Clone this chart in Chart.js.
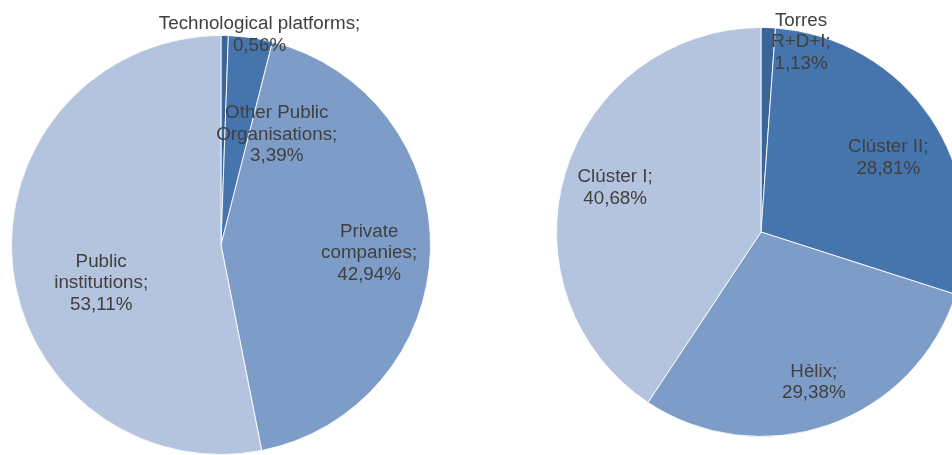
<!DOCTYPE html>
<html>
<head>
<meta charset="utf-8">
<script src="https://cdn.jsdelivr.net/npm/chart.js@4.4.1/dist/chart.umd.min.js"></script>
<style>
  html, body { margin: 0; padding: 0; background: #fff; overflow: hidden; width: 952px; height: 455px; }
  .box { position: absolute; top: 0; height: 455px; }
  #leftBox  { left: 0;     width: 540px; }
  #rightBox { left: 540px; width: 450px; }
</style>
</head>
<body>
<div class="box" id="leftBox"><canvas id="entities"></canvas></div>
<div class="box" id="rightBox"><canvas id="buildings"></canvas></div>
<script>
// ---- data -------------------------------------------------------------------

const entityNames  = ['Technological platforms', 'Other Public\nOrganisations', 'Private\ncompanies', 'Public\ninstitutions'];
const entityShares = [0.56, 3.39, 42.94, 53.11];

const buildingNames  = ['Torres\nR+D+I', 'Clúster II', 'Hèlix', 'Clúster I'];
const buildingShares = [1.13, 28.81, 29.38, 40.68];

const SLICE_COLORS = ['#3b6597', '#4674ad', '#7e9cc8', '#b4c4de'];

// ---- label plugin -----------------------------------------------------------

const LINE_H = 21.5;
const fmtPct = v => v.toFixed(2).replace('.', ',') + '%';

// place: [angle in degrees clockwise from 12 o'clock (null = slice middle), fraction of radius]
const sliceLabels = {
  id: 'sliceLabels',
  afterDatasetsDraw(chart, args, opts) {
    const { ctx } = chart;
    const meta = chart.getDatasetMeta(0);
    const values = chart.data.datasets[0].data;
    ctx.save();
    ctx.font = '18.8px "Liberation Sans", Arial, sans-serif';
    ctx.fillStyle = '#404040';
    ctx.textAlign = 'center';
    ctx.textBaseline = 'middle';
    meta.data.forEach((arc, i) => {
      const [deg, dist] = opts.place[i];
      const a = deg == null ? (arc.startAngle + arc.endAngle) / 2 : deg * Math.PI / 180 - Math.PI / 2;
      const r = arc.outerRadius * dist;
      const cx = arc.x + Math.cos(a) * r;
      const cy = arc.y + Math.sin(a) * r;
      const lines = (chart.data.labels[i] + ';\n' + fmtPct(values[i])).split('\n');
      lines.forEach((ln, k) => ctx.fillText(ln, cx, cy + (k - (lines.length - 1) / 2) * LINE_H));
    });
    ctx.restore();
  },
};

function makePie(canvasId, labels, values, padding, place) {
  return new Chart(document.getElementById(canvasId), {
    type: 'pie',
    data: {
      labels,
      datasets: [{
        data: values,
        backgroundColor: SLICE_COLORS,
        borderColor: 'rgba(255,255,255,0.85)',
        borderWidth: 1,
      }],
    },
    options: {
      responsive: true,
      maintainAspectRatio: false,
      animation: false,
      devicePixelRatio: 1,
      events: [],
      layout: { padding },
      plugins: {
        legend: { display: false },
        tooltip: { enabled: false },
        sliceLabels: { place },
      },
    },
    plugins: [sliceLabels],
  });
}

makePie('entities', entityNames, entityShares,
  { left: 11, top: 35, right: 109, bottom: 0 },
  [[10.4, 1.019], [26.8, 0.59], [93.1, 0.708], [252.4, 0.6]]);

makePie('buildings', buildingNames, buildingShares,
  { left: 16, top: 27, right: 24, bottom: 18 },
  [[11.9, 0.95], [59.8, 0.72], [null, 0.78], [null, 0.745]]);
</script>
</body>
</html>
